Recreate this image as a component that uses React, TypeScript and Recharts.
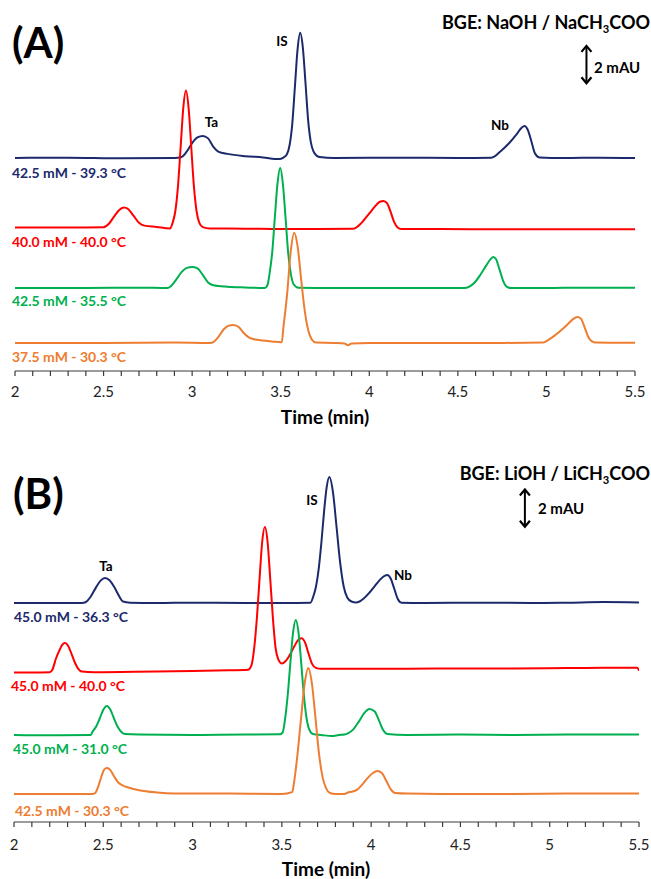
import React from 'react'
import { LineChart, Line, XAxis, YAxis, ReferenceLine } from 'recharts'

type Pt = [number, number]

const FONT = 'Lato, "Open Sans", sans-serif'

const X_TICKS = [
  2, 2.1, 2.2, 2.3, 2.4, 2.5, 2.6, 2.7, 2.8, 2.9, 3, 3.1, 3.2, 3.3, 3.4, 3.5, 3.6, 3.7,
  3.8, 3.9, 4, 4.1, 4.2, 4.3, 4.4, 4.5, 4.6, 4.7, 4.8, 4.9, 5, 5.1, 5.2, 5.3, 5.4, 5.5,
]
const MAJOR_TICKS = [2, 2.5, 3, 3.5, 4, 4.5, 5, 5.5]
const Y_DOMAIN: [number, number] = [0, 19]

const NAVY = '#1c2a6b'
const RED = '#ff0000'
const GREEN = '#00b050'
const ORANGE = '#ed7d31'
const TRACE_COLORS = [NAVY, RED, GREEN, ORANGE]

// ---- panel A: NaOH / NaCH3COO (signal in mAU above each baseline)
const A_LABELS = ['42.5 mM - 39.3 °C', '40.0 mM - 40.0 °C', '42.5 mM - 35.5 °C', '37.5 mM - 30.3 °C']
const A_OFFSETS = [11.4, 7.68, 4.44, 1.5]

const A_BLUE: Pt[] = [
  [2.0, 0], [2.3, 0.02], [2.6, -0.02], [2.9, 0], [2.94, 0.05], [2.97, 0.35], [3.0, 0.8],
  [3.03, 1.1], [3.06, 1.18], [3.09, 1.05], [3.12, 0.6], [3.15, 0.33], [3.2, 0.22], [3.3, 0.1],
  [3.4, 0.03], [3.49, -0.06], [3.515, 0.02], [3.535, 0.2], [3.55, 0.68], [3.565, 1.8],
  [3.58, 3.8], [3.595, 5.8], [3.61, 6.7], [3.625, 5.9], [3.64, 4.0], [3.655, 2.0],
  [3.67, 0.85], [3.685, 0.35], [3.7, 0.15], [3.72, 0.05], [3.8, 0], [4.2, 0.02], [4.5, 0],
  [4.69, 0.02], [4.74, 0.35], [4.79, 0.8], [4.83, 1.25], [4.86, 1.62], [4.876, 1.71],
  [4.895, 1.5], [4.915, 0.9], [4.935, 0.25], [4.96, 0.03], [5.1, 0], [5.3, 0.02], [5.5, 0],
]
const A_RED: Pt[] = [
  [2.0, 0], [2.3, 0], [2.5, 0.02], [2.53, 0.2], [2.56, 0.6], [2.59, 0.95], [2.616, 1.07],
  [2.64, 0.98], [2.67, 0.62], [2.7, 0.25], [2.73, 0.1], [2.8, 0.03], [2.875, -0.05],
  [2.89, 0.26], [2.905, 0.87], [2.92, 2.2], [2.935, 4.3], [2.95, 6.4], [2.965, 7.33],
  [2.98, 6.4], [2.995, 4.3], [3.01, 2.2], [3.025, 0.87], [3.04, 0.26], [3.06, 0.02],
  [3.1, -0.05], [3.3, -0.06], [3.5, -0.08], [3.7, -0.08], [3.91, -0.07], [3.94, 0.1],
  [3.97, 0.4], [4.0, 0.75], [4.03, 1.1], [4.06, 1.38], [4.08, 1.42], [4.1, 1.3], [4.12, 0.85],
  [4.14, 0.3], [4.16, 0.0], [4.18, -0.08], [4.4, -0.08], [4.7, -0.1], [5.0, -0.1],
  [5.3, -0.09], [5.5, -0.1],
]
const A_GREEN: Pt[] = [
  [2.0, 0], [2.4, 0], [2.7, 0.02], [2.86, 0], [2.88, 0.1], [2.91, 0.45], [2.94, 0.85],
  [2.97, 1.08], [3.0, 1.12], [3.03, 1.05], [3.06, 0.7], [3.09, 0.3], [3.12, 0.15], [3.2, 0.07],
  [3.3, 0.03], [3.41, 0], [3.425, 0.15], [3.437, 0.77], [3.452, 1.9], [3.467, 3.8],
  [3.482, 5.6], [3.497, 6.42], [3.512, 5.6], [3.527, 3.8], [3.542, 1.9], [3.557, 0.77],
  [3.572, 0.22], [3.6, 0.02], [3.8, 0], [4.0, 0], [4.3, 0], [4.54, 0], [4.57, 0.1],
  [4.6, 0.35], [4.63, 0.75], [4.66, 1.2], [4.685, 1.55], [4.7, 1.66], [4.715, 1.55],
  [4.735, 1.0], [4.755, 0.4], [4.775, 0.08], [4.8, 0], [5.0, 0], [5.2, 0.02], [5.5, 0.02],
]
const A_ORANGE: Pt[] = [
  [2.0, 0], [2.5, 0], [2.9, 0.02], [3.1, 0], [3.12, 0.05], [3.15, 0.35], [3.18, 0.75],
  [3.21, 0.94], [3.23, 0.96], [3.26, 0.88], [3.29, 0.55], [3.32, 0.3], [3.35, 0.2], [3.4, 0.13],
  [3.46, 0.07], [3.5, 0.04], [3.506, 0.06], [3.516, 0.9], [3.536, 2.6], [3.556, 4.85],
  [3.576, 5.9], [3.596, 5.13], [3.616, 3.35], [3.636, 1.7], [3.656, 0.65], [3.676, 0.18],
  [3.7, 0.02], [3.8, 0], [3.86, -0.03], [3.88, -0.12], [3.9, -0.03], [4.0, 0], [4.3, 0],
  [4.6, 0], [4.98, 0.02], [5.0, 0.1], [5.04, 0.35], [5.08, 0.65], [5.12, 1.0], [5.15, 1.28],
  [5.175, 1.39], [5.195, 1.3], [5.215, 0.85], [5.235, 0.35], [5.255, 0.1], [5.28, 0.02],
  [5.5, 0.01],
]

// ---- panel B: LiOH / LiCH3COO
const B_LABELS = ['45.0 mM - 36.3 °C', '45.0 mM - 40.0 °C', '45.0 mM - 31.0 °C', '42.5 mM - 30.3 °C']
const B_OFFSETS = [11.72, 8.0, 4.66, 1.5]

const B_BLUE: Pt[] = [
  [2.0, 0], [2.2, 0], [2.38, 0], [2.4, 0.04], [2.43, 0.35], [2.46, 0.85], [2.485, 1.2],
  [2.51, 1.34], [2.535, 1.22], [2.56, 0.88], [2.59, 0.35], [2.61, 0.08], [2.65, 0.02],
  [2.8, 0], [3.0, 0.02], [3.3, 0], [3.5, 0], [3.66, 0.02], [3.676, 0.35], [3.691, 0.87],
  [3.706, 1.8], [3.721, 3.2], [3.736, 4.85], [3.751, 6.2], [3.766, 6.75], [3.786, 5.95],
  [3.806, 4.1], [3.826, 2.2], [3.846, 0.9], [3.866, 0.3], [3.89, 0.08], [3.915, 0.03],
  [3.935, 0.08], [3.96, 0.25], [3.99, 0.55], [4.02, 0.9], [4.05, 1.25], [4.075, 1.45],
  [4.09, 1.5], [4.11, 1.3], [4.13, 0.75], [4.15, 0.2], [4.17, 0.02], [4.3, 0], [4.6, 0.02],
  [4.9, 0], [5.1, 0.02], [5.3, 0.05], [5.5, 0.03],
]
const B_RED: Pt[] = [
  [2.0, 0], [2.1, 0], [2.2, 0.02], [2.215, 0.15], [2.235, 0.75], [2.255, 1.2], [2.27, 1.48],
  [2.286, 1.58], [2.302, 1.45], [2.32, 1.05], [2.34, 0.55], [2.36, 0.2], [2.38, 0.05],
  [2.45, 0.02], [2.6, 0.03], [2.8, 0.05], [3.0, 0.08], [3.2, 0.12], [3.31, 0.15], [3.33, 0.4],
  [3.345, 1.3], [3.36, 2.9], [3.375, 5.0], [3.39, 7.0], [3.405, 7.79], [3.42, 7.0],
  [3.435, 5.0], [3.45, 2.9], [3.465, 1.3], [3.48, 0.7], [3.5, 0.48], [3.52, 0.6],
  [3.545, 0.95], [3.57, 1.4], [3.595, 1.78], [3.611, 1.83], [3.63, 1.6], [3.65, 1.0],
  [3.67, 0.45], [3.69, 0.25], [3.72, 0.2], [3.9, 0.2], [4.2, 0.2], [4.5, 0.22], [4.8, 0.22],
  [5.1, 0.24], [5.3, 0.25], [5.46, 0.26], [5.49, 0.26], [5.5, 0.1],
]
const B_GREEN: Pt[] = [
  [2.0, 0], [2.2, -0.02], [2.43, 0], [2.44, 0.17], [2.46, 0.45], [2.48, 0.88], [2.5, 1.35],
  [2.52, 1.55], [2.54, 1.35], [2.56, 0.88], [2.58, 0.45], [2.6, 0.17], [2.62, 0.05],
  [2.7, 0.02], [3.0, 0], [3.3, 0.02], [3.49, 0.03], [3.505, 0.15], [3.518, 0.85],
  [3.533, 2.15], [3.548, 3.9], [3.563, 5.5], [3.578, 6.15], [3.593, 5.5], [3.608, 3.9],
  [3.623, 2.15], [3.638, 0.92], [3.653, 0.3], [3.675, 0.05], [3.72, 0], [3.78, -0.06],
  [3.82, 0], [3.85, 0.02], [3.87, 0.08], [3.9, 0.3], [3.93, 0.7], [3.96, 1.15], [3.99, 1.39],
  [4.02, 1.25], [4.045, 0.75], [4.065, 0.3], [4.09, 0.05], [4.2, 0], [4.5, 0.02], [4.8, 0],
  [5.1, 0.02], [5.5, 0.02],
]
const B_ORANGE: Pt[] = [
  [2.0, 0], [2.3, 0], [2.44, 0], [2.455, 0.05], [2.47, 0.35], [2.49, 0.95], [2.505, 1.3],
  [2.52, 1.39], [2.54, 1.28], [2.56, 0.95], [2.585, 0.6], [2.61, 0.45], [2.64, 0.35],
  [2.7, 0.2], [2.8, 0.08], [2.9, 0.03], [3.2, 0.02], [3.5, 0], [3.558, 0.1], [3.568, 0.6],
  [3.588, 2.16], [3.608, 4.1], [3.628, 5.93], [3.648, 6.74], [3.668, 5.93], [3.688, 4.1],
  [3.708, 2.16], [3.728, 0.9], [3.748, 0.3], [3.77, 0.05], [3.8, 0], [3.85, 0], [3.87, 0.08],
  [3.89, 0.12], [3.92, 0.22], [3.95, 0.5], [3.98, 0.85], [4.01, 1.12], [4.035, 1.23],
  [4.06, 1.12], [4.085, 0.7], [4.11, 0.25], [4.135, 0.05], [4.2, 0.02], [4.5, 0], [4.8, 0],
  [5.1, 0.02], [5.5, 0.02],
]

const toRows = (pts: Pt[], offset: number) => pts.map(([t, v]) => ({ t, y: v + offset }))

const tickFmt = (v: number) => (MAJOR_TICKS.includes(v) ? String(v) : '')

function ScaleArrow(props: any) {
  const { x1, y1, y2 } = props
  const top = Math.min(y1, y2)
  const bot = Math.max(y1, y2)
  return (
    <g>
      <line x1={x1} x2={x1} y1={top + 1} y2={bot - 1} stroke="#000" strokeWidth={2} />
      <polyline
        points={`${x1 - 5},${top + 6} ${x1},${top} ${x1 + 5},${top + 6}`}
        fill="none"
        stroke="#000"
        strokeWidth={2.2}
      />
      <polyline
        points={`${x1 - 5},${bot - 6} ${x1},${bot} ${x1 + 5},${bot - 6}`}
        fill="none"
        stroke="#000"
        strokeWidth={2.2}
      />
    </g>
  )
}

function Txt({
  x,
  y,
  size,
  color = '#000',
  weight = 700,
  align = 'left',
  children,
}: {
  x: number
  y: number
  size: number
  color?: string
  weight?: number
  align?: 'left' | 'center' | 'right'
  children: React.ReactNode
}) {
  const tx = align === 'center' ? '-50%' : align === 'right' ? '-100%' : '0'
  return (
    <div
      style={{
        position: 'absolute',
        left: x,
        top: y,
        transform: `translate(${tx}, -50%)`,
        fontSize: size,
        fontWeight: weight,
        color,
        whiteSpace: 'nowrap',
        lineHeight: 1,
        fontFamily: FONT,
      }}
    >
      {children}
    </div>
  )
}

const Sub3 = () => (
  <span style={{ fontSize: '0.62em', position: 'relative', top: '0.32em' }}>3</span>
)

interface PanelProps {
  top: number
  left: number
  right: number
  tickMargin: number
  traces: Pt[][]
  offsets: number[]
  arrowT: number
  arrowY: [number, number]
}

function Panel({ top, left, right, tickMargin, traces, offsets, arrowT, arrowY }: PanelProps) {
  return (
    <div style={{ position: 'absolute', left: 0, top }}>
      <LineChart
        width={651}
        height={425}
        margin={{ top: 16, right, left, bottom: 0 }}
        style={{ fontFamily: FONT }}
      >
        <XAxis
          type="number"
          dataKey="t"
          domain={[2, 5.5]}
          ticks={X_TICKS}
          interval={0}
          allowDataOverflow
          tickFormatter={tickFmt}
          height={54}
          tickSize={5}
          tickMargin={tickMargin}
          stroke="#3a3a3a"
          strokeWidth={1.2}
          tick={{ fontSize: 15, fill: '#222', fontFamily: FONT }}
        />
        <YAxis type="number" hide domain={Y_DOMAIN} allowDataOverflow />
        {traces.map((pts, i) => (
          <Line
            key={i}
            data={toRows(pts, offsets[i])}
            dataKey="y"
            type="monotone"
            stroke={TRACE_COLORS[i]}
            strokeWidth={2}
            dot={false}
            activeDot={false}
            isAnimationActive={false}
          />
        ))}
        <ReferenceLine
          segment={[
            { x: arrowT, y: arrowY[0] },
            { x: arrowT, y: arrowY[1] },
          ]}
          shape={ScaleArrow}
        />
      </LineChart>
    </div>
  )
}

export default function App() {
  return (
    <div
      style={{
        position: 'absolute',
        left: 0,
        top: 0,
        width: 651,
        height: 879,
        background: '#fff',
        overflow: 'hidden',
        fontFamily: FONT,
      }}
    >
      <Panel
        top={0}
        left={15}
        right={16}
        tickMargin={10}
        traces={[A_BLUE, A_RED, A_GREEN, A_ORANGE]}
        offsets={A_OFFSETS}
        arrowT={5.226}
        arrowY={[15.4, 17.4]}
      />
      <Panel
        top={451}
        left={14}
        right={12}
        tickMargin={12}
        traces={[B_BLUE, B_RED, B_GREEN, B_ORANGE]}
        offsets={B_OFFSETS}
        arrowT={4.861}
        arrowY={[15.8, 17.8]}
      />

      {/* panel A text */}
      <Txt x={12} y={42} size={42}>(A)</Txt>
      <Txt x={650} y={22} size={18} align="right">
        BGE: NaOH / NaCH<Sub3 />COO
      </Txt>
      <Txt x={594} y={67} size={15}>2 mAU</Txt>
      <Txt x={282} y={42} size={13.5} align="center">IS</Txt>
      <Txt x={211.5} y={123} size={13.5} align="center">Ta</Txt>
      <Txt x={500} y={126} size={13.5} align="center">Nb</Txt>
      {A_LABELS.map((s, i) => (
        <Txt key={s + i} x={12} y={[173, 242, 301, 357][i]} size={14} color={TRACE_COLORS[i]}>
          {s}
        </Txt>
      ))}
      <Txt x={325} y={416} size={19} align="center">Time (min)</Txt>

      {/* panel B text */}
      <Txt x={13} y={493} size={42}>(B)</Txt>
      <Txt x={650} y={473} size={18} align="right">
        BGE: LiOH / LiCH<Sub3 />COO
      </Txt>
      <Txt x={538} y={508} size={15}>2 mAU</Txt>
      <Txt x={312} y={501} size={13.5} align="center">IS</Txt>
      <Txt x={106} y={567} size={13.5} align="center">Ta</Txt>
      <Txt x={403} y={576} size={13.5} align="center">Nb</Txt>
      {B_LABELS.map((s, i) => (
        <Txt key={s + i} x={[14, 11, 13, 15][i]} y={[617, 686, 749, 811][i]} size={14} color={TRACE_COLORS[i]}>
          {s}
        </Txt>
      ))}
      <Txt x={326} y={868} size={19} align="center">Time (min)</Txt>
    </div>
  )
}
